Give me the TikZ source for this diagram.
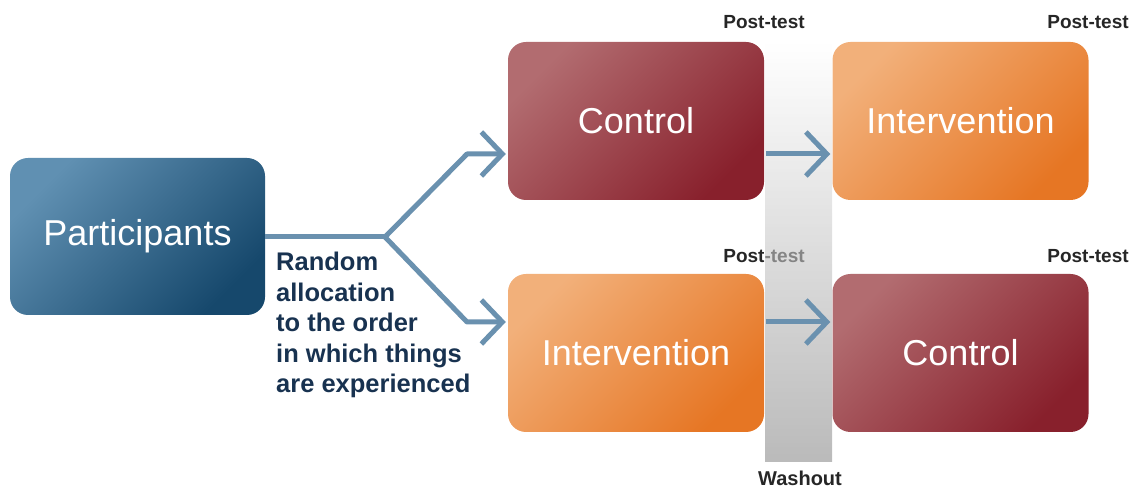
\documentclass[tikz,border=0pt]{standalone}
\usepackage{fontspec}
\setmainfont{Liberation Sans}
\usetikzlibrary{arrows.meta}
\definecolor{arrowblue}{RGB}{106,145,175}
\definecolor{ctrlA}{RGB}{178,108,112}
\definecolor{ctrlB}{RGB}{136,32,44}
\definecolor{intA}{RGB}{242,176,122}
\definecolor{intB}{RGB}{230,118,36}
\definecolor{partA}{RGB}{96,144,178}
\definecolor{partB}{RGB}{22,72,108}
\definecolor{navytext}{RGB}{24,50,80}
\definecolor{labelgray}{RGB}{38,38,38}
\tikzset{
  box/.style={rounded corners=18pt, minimum width=256pt, minimum height=158pt,
    inner sep=0pt, text=white, font=\fontsize{36}{43}\selectfont},
  ctrlbox/.style={box, top color=ctrlA, bottom color=ctrlB, shading angle=45},
  intbox/.style={box, top color=intA, bottom color=intB, shading angle=45},
  partbox/.style={box, top color=partA, bottom color=partB, shading angle=45,
    minimum width=255pt, minimum height=157pt},
  flow/.style={draw=arrowblue, line width=5pt, line join=round,
    -{Straight Barb[length=21pt,width=44pt]}},
  posttest/.style={font=\bfseries\fontsize{19}{22}\selectfont, text=labelgray, inner sep=0pt},
}
\begin{document}
\begin{tikzpicture}[x=1pt,y=1pt]
\useasboundingbox (0,0) rectangle (1137,489);
% boxes
\node[partbox] (P) at (137.5,252.5) {Participants};
\node[ctrlbox] (C1) at (636,368) {Control};
\node[intbox] (I1) at (960.5,368) {Intervention};
\node[intbox] (I2) at (636,136) {Intervention};
\node[ctrlbox] (C2) at (960.5,136) {Control};
% labels
\node[posttest] (pt1) at (764,467) {Post-test};
\node[posttest] (pt2) at (1088,467) {Post-test};
\node[posttest] (pt3) at (764,233) {Post-test};
\node[posttest] (pt4) at (1088,233) {Post-test};
\node[anchor=north west, align=left, inner sep=0pt, text=navytext,
  font=\bfseries\fontsize{25.5}{30.5}\selectfont] (rand) at (276,237)
  {Random\\allocation\\to the order\\in which things\\are experienced};
% washout bar
\shade[top color=white, bottom color=black!45, opacity=0.6] (765,447) rectangle (832,27);
\node[posttest, font=\bfseries\fontsize{20}{24}\selectfont] (wash) at (800,11) {Washout};
% connectors
\coordinate (br) at (385,252);
\coordinate (up) at (467,335);
\coordinate (dn) at (467,167);
\draw[draw=arrowblue, line width=5pt] (P.east |- br) -- (br);
\draw[flow, shorten >=2pt] (br) -- (up) -- (up -| C1.west);
\draw[flow, shorten >=2pt] (br) -- (dn) -- (dn -| I2.west);
\draw[flow, shorten <=2pt, shorten >=2pt] (C1.east |- up) -- (I1.west |- up);
\draw[flow, shorten <=2pt, shorten >=2pt] (I2.east |- dn) -- (C2.west |- dn);
\end{tikzpicture}
\end{document}
